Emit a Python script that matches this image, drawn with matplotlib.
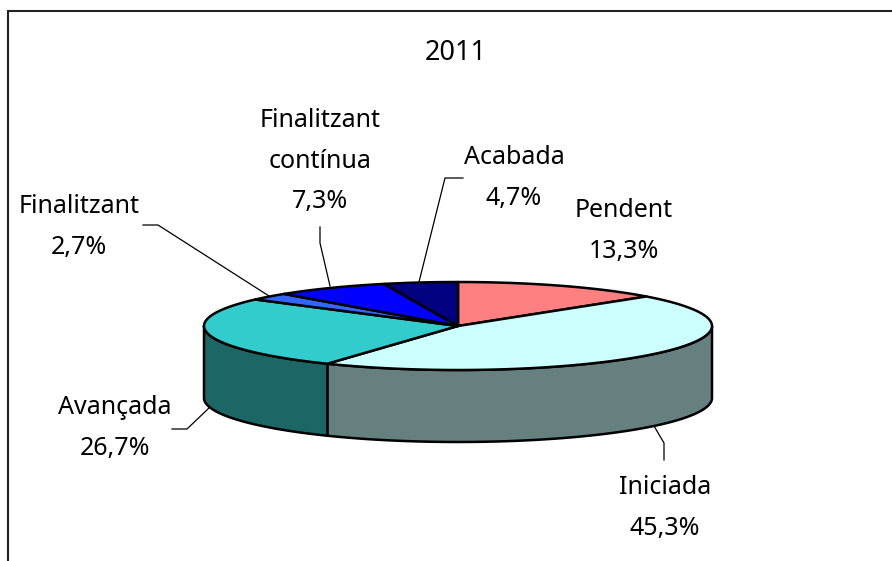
import numpy as np
import matplotlib
matplotlib.use("Agg")
import matplotlib.pyplot as plt

plt.rcParams['font.family'] = ['Noto Sans', 'DejaVu Sans']

# chart values
categories = ["Pendent", "Iniciada", "Avançada", "Finalitzant", "Finalitzant\ncontínua", "Acabada"]
values = [13.3, 45.3, 26.7, 2.7, 7.3, 4.7]
value_labels = ["13,3%", "45,3%", "26,7%", "2,7%", "7,3%", "4,7%"]
title = "2011"

top_colors = ["#FF8080", "#CCFFFF", "#33CCCC", "#3366FF", "#0000FF", "#000080"]
side_colors = ["#804040", "#668080", "#1C6666", "#1A3380", "#000080", "#000040"]

W, H = 892, 561
CX, CY, RX, RY, DEPTH = 458, 326, 254, 44, 72

# label centres and leader lines, pixels from top left
label_pos = [(624, 231), (665, 508), (115, 428), (79, 227), (320, 161), (514, 178)]
leaders = [None,
           [(664, 460), (664, 443), (654, 426)],
           [(172, 429), (187, 429), (209, 408)],
           [(143, 225), (158, 225), (269, 296)],
           [(320, 227), (320, 243), (330, 286)],
           [(463, 178), (445, 178), (419, 282)]]

fig = plt.figure(figsize=(W / 100, H / 100), dpi=100)

# pixel axes for the frame, the labels and the leader lines
ax = fig.add_axes([0, 0, 1, 1])
ax.set_xlim(0, W)
ax.set_ylim(H, 0)
ax.axis("off")
ax.plot([8, 8, W], [H, 11, 11], color="#222222", lw=1.5, solid_joinstyle="miter")


def ellipse(frac):
    theta = 2 * np.pi * np.asarray(frac)
    return CX + RX * np.sin(theta), CY - RY * np.cos(theta)


# slice boundaries, clockwise from 12 o'clock
edges = np.cumsum([0] + values) / sum(values)

# side wall, only the front half of the ellipse shows
for i in range(len(values)):
    start, end = max(edges[i], 0.25), min(edges[i + 1], 0.75)
    if start >= end:
        continue
    fr = np.linspace(start, end, 120)
    x, y = ellipse(fr)
    ax.fill(np.r_[x, x[::-1]], np.r_[y, y[::-1] + DEPTH],
            facecolor=side_colors[i], edgecolor="black", lw=1.8, joinstyle="round", zorder=2)

# top face
for i in range(len(values)):
    fr = np.linspace(edges[i], edges[i + 1], 120)
    x, y = ellipse(fr)
    ax.fill(np.r_[CX, x], np.r_[CY, y],
            facecolor=top_colors[i], edgecolor="black", lw=1.8, joinstyle="round", zorder=3)

for pts in leaders:
    if pts:
        ax.plot(*zip(*pts), color="black", lw=0.9, zorder=1)

font = 18
for (lx, ly), cat, val in zip(label_pos, categories, value_labels):
    ax.text(lx, ly, cat + "\n" + val, ha="center", va="center",
            fontsize=font, linespacing=1.8, color="black")
ax.text(456, 53, title, ha="center", va="center", fontsize=19.5, color="black")

fig.savefig("out.png", dpi=100)
